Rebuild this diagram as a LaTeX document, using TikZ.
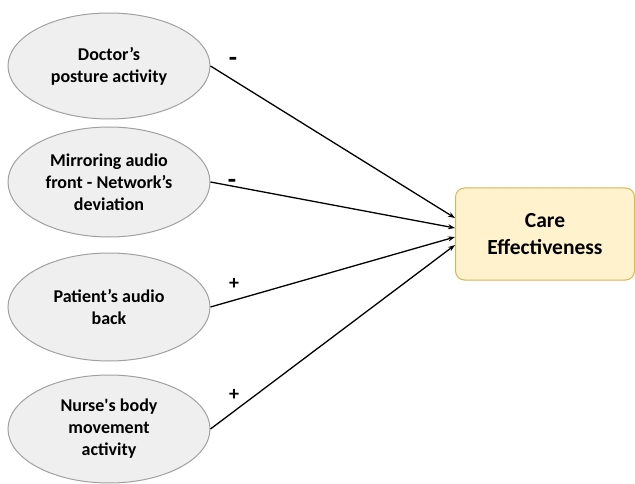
\documentclass[tikz,border=0pt]{standalone}
\usepackage{fontspec}
\setmainfont[Ligatures=TeXOff]{Carlito}
\usetikzlibrary{shapes.geometric,arrows.meta}
\definecolor{ellfill}{HTML}{EFEFEF}
\definecolor{elldraw}{HTML}{A0A0A0}
\definecolor{boxfill}{HTML}{FFF2CC}
\definecolor{boxdraw}{HTML}{D6B656}
\begin{document}
\begin{tikzpicture}[x=1pt,y=-1pt,
  factor/.style={ellipse,draw=elldraw,fill=ellfill,line width=1pt,minimum width=202pt,minimum height=106pt,inner sep=0pt,align=center,font=\fontsize{18}{22}\selectfont\bfseries},
  target/.style={rectangle,rounded corners=9pt,draw=boxdraw,fill=boxfill,line width=1pt,minimum width=179pt,minimum height=92pt,align=center,font=\fontsize{21.5}{27}\selectfont\bfseries},
  link/.style={line width=1.3pt,-{Stealth[length=7pt,width=5pt]}},
  sign/.style={font=\fontsize{20}{20}\selectfont\bfseries},
  minus/.style={font=\fontsize{27}{27}\selectfont\bfseries}]
\useasboundingbox (0,0) rectangle (635,484);
\node[factor] (a) at (109,66) {Doctor’s\\posture activity};
\node[factor,minimum height=110pt] (b) at (109,182) {Mirroring audio\\front - Network’s\\deviation};
\node[factor,minimum height=108pt] (c) at (109,307) {Patient’s audio\\back};
\node[factor,minimum height=108pt] (d) at (109,429) {Nurse's body\\movement\\activity};
\node[target] (t) at (545,234) {Care\\Effectiveness};
\coordinate (t1) at (455,218);
\coordinate (t2) at (455,228);
\coordinate (t3) at (455,237);
\coordinate (t4) at (455,245);
\draw[link] (a.east) -- (t1);
\draw[link] (b.east) -- (t2);
\draw[link] (c.east) -- (t3);
\draw[link] (d.east) -- (t4);
\node[minus] (s1) at (233,62) {-};
\node[minus] (s2) at (232,184) {-};
\node[sign] (s3) at (234,284) {+};
\node[sign] (s4) at (234,395) {+};
\end{tikzpicture}
\end{document}
